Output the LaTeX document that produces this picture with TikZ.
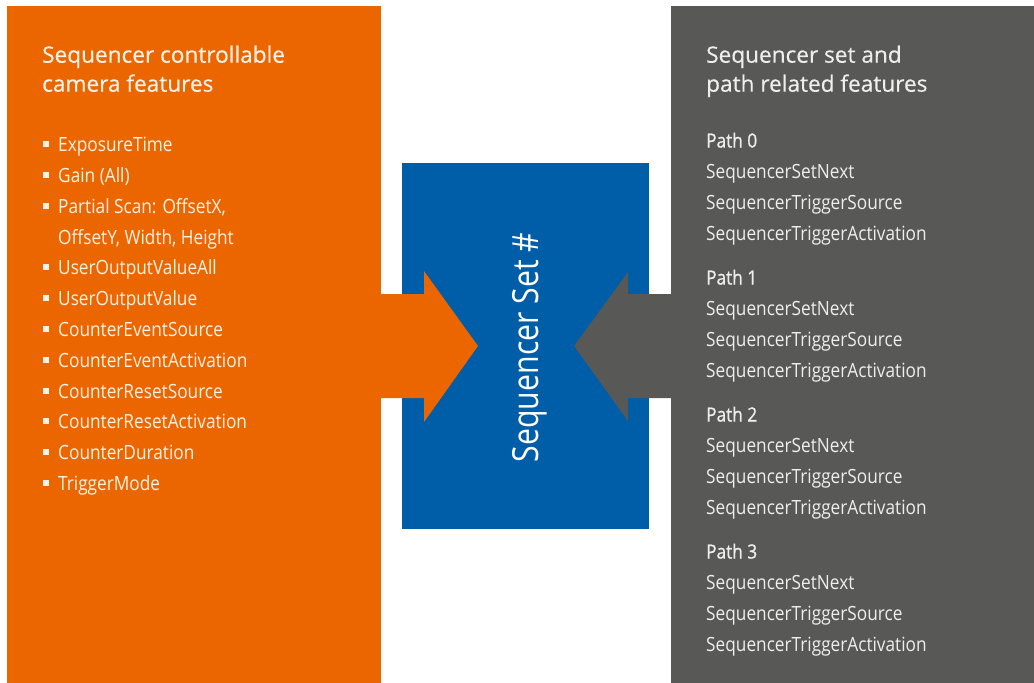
\documentclass[tikz,border=0pt]{standalone}
\usepackage{fontspec}
\setmainfont{Open Sans}
\newfontfamily\headfont[FakeBold=0.4]{Open Sans}
\newfontfamily\itemfont[FakeStretch=0.88]{Open Sans}
\newfontfamily\pathfont[FakeStretch=0.88,FakeBold=1]{Open Sans}
\newfontfamily\setfont[FakeStretch=0.84]{Open Sans}
\usetikzlibrary{calc}
\definecolor{orangec}{RGB}{236,102,0}
\definecolor{bluec}{RGB}{0,93,168}
\definecolor{greyc}{RGB}{88,88,87}
\definecolor{ltext}{RGB}{255,242,230}
\definecolor{gtext}{RGB}{238,238,238}
\tikzset{
  panel/.style={draw=none, inner sep=0, outer sep=0, anchor=north west},
  headtxt/.style={anchor=base west, inner sep=0, font=\headfont\fontsize{22.6}{27}\selectfont},
  litem/.style={anchor=base west, inner sep=0, text=ltext, font=\itemfont\fontsize{19.6}{23}\selectfont},
  ritem/.style={anchor=base west, inner sep=0, text=gtext, font=\itemfont\fontsize{19.6}{23}\selectfont},
  rpath/.style={anchor=base west, inner sep=0, text=gtext, font=\pathfont\fontsize{19.6}{23}\selectfont},
  bulletsq/.style={fill=ltext, minimum size=6, inner sep=0, outer sep=0, anchor=center},
  blockarrow/.style={draw=none}
}
\begin{document}
\begin{tikzpicture}[x=1pt,y=-1pt]
\useasboundingbox (0,0) rectangle (1034,683);
\fill[white] (0,0) rectangle (1034,683);
% panels
\node[panel, fill=orangec, minimum width=374, minimum height=677] (orange) at (7,6) {};
\node[panel, fill=greyc, minimum width=363, minimum height=677] (grey) at (671,6) {};
\node[panel, fill=bluec, minimum width=247, minimum height=366] (blue) at (402,163) {};
% arrows
\coordinate (otip) at (478,346);
\coordinate (gtip) at (574,346);
\fill[orangec, blockarrow] (380,294) -- (424,294) -- (424,271) -- (otip) -- (424,422) -- (424,398) -- (380,398) -- cycle;
\fill[greyc, blockarrow] (672,294) -- (628,294) -- (628,272) -- (gtip) -- (628,421) -- (628,398) -- (672,398) -- cycle;
% centre label
\node[rotate=90, anchor=base, inner sep=0, text=white, font=\setfont\fontsize{36}{40}\selectfont] (setlabel) at (538.3,347.5) {Sequencer Set \#};
% left heading
\node[headtxt, text=ltext] (lh1) at (42,62.7) {Sequencer controllable};
\node[headtxt, text=ltext] (lh2) at (42,91.7) {camera features};
% left items
\foreach \t/\y [count=\i] in {ExposureTime/151.7, Gain (All)/182.5, {Partial Scan: OffsetX,}/213.3,
  UserOutputValueAll/274.9, UserOutputValue/305.7, CounterEventSource/336.5, CounterEventActivation/367.3,
  CounterResetSource/398.1, CounterResetActivation/428.9, CounterDuration/459.7, TriggerMode/490.5}{
  \node[litem] (li\i) at (58,\y) {\t};
  \node[bulletsq] (lb\i) at (46.3,\y-7.5) {};
}
\node[litem] (li3b) at (58,244.1) {OffsetY, Width, Height};
% right heading
\node[headtxt, text=gtext] (rh1) at (706,62.7) {Sequencer set and};
\node[headtxt, text=gtext] (rh2) at (706,91.7) {path related features};
% right items
\foreach \k/\y in {0/147.5, 1/284.5, 2/421.5, 3/558.5}{
  \node[rpath] (p\k) at (706,\y) {Path \k};
  \node[ritem] (p\k a) at (706,\y+31) {SequencerSetNext};
  \node[ritem] (p\k b) at (706,\y+61.8) {SequencerTriggerSource};
  \node[ritem] (p\k c) at (706,\y+92.5) {SequencerTriggerActivation};
}
\end{tikzpicture}
\end{document}
